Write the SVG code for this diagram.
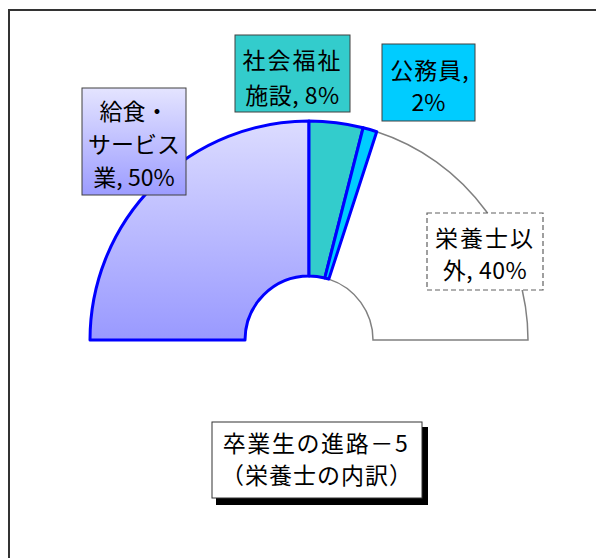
<svg xmlns="http://www.w3.org/2000/svg" width="596" height="558" viewBox="0 0 596 558">
<defs>
<linearGradient id="gSlice" x1="0" y1="0" x2="0" y2="1">
<stop offset="0" stop-color="#DCDCFF"/>
<stop offset="1" stop-color="#9999FF"/>
</linearGradient>
<linearGradient id="gLabel" x1="0" y1="0" x2="0" y2="1">
<stop offset="0" stop-color="#E4E4FF"/>
<stop offset="1" stop-color="#9C9CFF"/>
</linearGradient>
<style>
.t{font-family:"Noto Sans CJK JP","Noto Sans CJK SC",sans-serif;font-size:23px;fill:#000;text-anchor:middle}
.sl{stroke:#0000FF;stroke-width:3;stroke-linejoin:round}
.lb{stroke:#404040;stroke-width:1}
</style>
</defs>
<rect width="596" height="558" fill="#FFFFFF"/>
<rect x="9" y="10" width="600" height="560" fill="none" stroke="#333333" stroke-width="2"/>
<g id="connectors"/>
<g id="slice-other">
<path d="M376.7,131.7 A219,219 0 0 1 528,340 L373,340 A64,64 0 0 0 328.8,279.1 Z" fill="#FFFFFF" stroke="#808080" stroke-width="1.5"/>
</g>
<g id="slice-food">
<path class="sl" d="M90,340 A219,219 0 0 1 309,121 L309,276 A64,64 0 0 0 245,340 Z" fill="url(#gSlice)"/>
</g>
<g id="slice-welfare">
<path class="sl" d="M309,121 A219,219 0 0 1 363.1,127.8 L324.8,278 A64,64 0 0 0 309,276 Z" fill="#33CCCC"/>
</g>
<g id="slice-public">
<path class="sl" d="M363.1,127.8 A219,219 0 0 1 376.7,131.7 L328.8,279.1 A64,64 0 0 0 324.8,278 Z" fill="#00CCFF" stroke-width="2"/>
</g>
<g id="label-food">
<rect class="lb" x="82" y="88" width="104" height="107" fill="url(#gLabel)"/>
<text class="t" x="134" y="120">給食・</text>
<text class="t" x="134" y="153">サービス</text>
<text class="t" x="134" y="186">業, 50%</text>
</g>
<g id="label-welfare">
<rect class="lb" x="235" y="35" width="115" height="77" fill="#33CCCC"/>
<text class="t" x="292.5" y="69" letter-spacing="2">社会福祉</text>
<text class="t" x="292.5" y="104" letter-spacing="0.5">施設, 8%</text>
</g>
<g id="label-public">
<rect class="lb" x="382" y="44" width="93" height="77" fill="#00CCFF"/>
<text class="t" x="430" y="79" letter-spacing="1">公務員,</text>
<text class="t" x="428.5" y="111">2%</text>
</g>
<g id="label-other">
<rect x="427" y="213" width="116" height="77" fill="#FFFFFF" stroke="#606060" stroke-width="1.2" stroke-dasharray="5,3"/>
<text class="t" x="485" y="247" letter-spacing="2">栄養士以</text>
<text class="t" x="485" y="279" letter-spacing="0.5">外, 40%</text>
</g>
<g id="title">
<rect x="216" y="427" width="212" height="78" fill="#000000"/>
<rect x="212" y="422" width="210" height="76" fill="#FFFFFF" stroke="#333333" stroke-width="1"/>
<text class="t" x="316" y="452" letter-spacing="1.6">卒業生の進路－5</text>
<text class="t" x="317" y="484" letter-spacing="1">（栄養士の内訳）</text>
</g>
</svg>
